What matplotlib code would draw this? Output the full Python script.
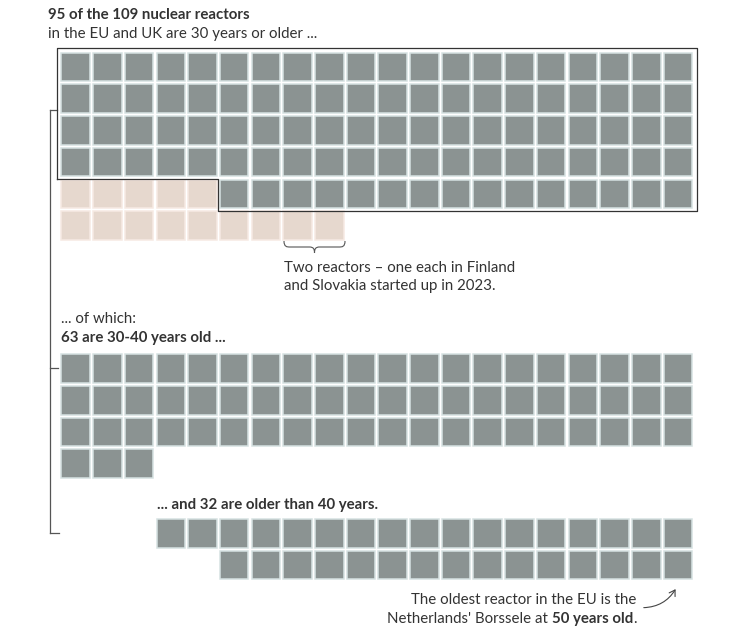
import matplotlib
matplotlib.use("Agg")
import matplotlib.pyplot as plt
from matplotlib.patches import Rectangle, FancyArrowPatch, PathPatch
from matplotlib.path import Path

plt.rcParams['font.family'] = ['Lato', 'DejaVu Sans']

# data
ncols = 20
old_count = 95        # 30 years or older
young_count = 14      # younger than 30
mid_count = 63        # 30-40 years old
oldest_count = 32     # older than 40

title = "95 of the 109 nuclear reactors"
subtitle = "in the EU and UK are 30 years or older ..."
note_new = ["Two reactors \u2013 one each in Finland", "and Slovakia started up in 2023."]
label_mid = ["... of which:", "63 are 30-40 years old ..."]
label_old = "... and 32 are older than 40 years."
note_oldest = ["The oldest reactor in the EU is the", "Netherlands' Borssele at ", "50 years old", "."]

gray = '#8b9392'
gray_edge = '#d6e2e2'
pink = '#e6d8ce'
pink_edge = '#f6eae3'
txt = '#333333'
line = '#555555'

# grid layout in pixels
x0 = 61.4
pitch = 31.7
size = 28.5

full_rows = old_count // ncols
rem = old_count % ncols
old_cells = []
for i in range(old_count):
    if i < full_rows * ncols:
        old_cells.append((i // ncols, i % ncols))
    else:
        old_cells.append((full_rows, ncols - rem + (i - full_rows * ncols)))

young_cells = []
free = ncols - rem
for i in range(young_count):
    if i < free:
        young_cells.append((full_rows, i))
    else:
        j = i - free
        young_cells.append((full_rows + 1 + j // ncols, j % ncols))

mid_cells = old_cells[:mid_count]
oldest_cells = old_cells[mid_count:mid_count + oldest_count]

fig = plt.figure(figsize=(7.47, 6.33), dpi=100)
ax = fig.add_axes([0, 0, 1, 1])
ax.set_xlim(0, 747)
ax.set_ylim(633, 0)
ax.axis('off')


def draw_cells(cells, ytop, fc, ec):
    for r, c in cells:
        ax.add_patch(Rectangle((x0 + c * pitch, ytop + r * pitch), size, size,
                               facecolor=fc, edgecolor=ec, lw=1.1, zorder=2))


draw_cells(old_cells, 52.7, gray, gray_edge)
draw_cells(young_cells, 52.7, pink, pink_edge)
draw_cells(mid_cells, 354.3, gray, gray_edge)
draw_cells(oldest_cells, 519.3 - oldest_cells[0][0] * pitch, gray, gray_edge)

# outline around the 95 old reactors
outline = [(57.3, 179.2), (57.3, 48.3), (696.8, 48.3), (696.8, 211),
           (217.5, 211), (217.5, 179.2), (57.3, 179.2)]
ax.plot([p[0] for p in outline], [p[1] for p in outline], color='#333333', lw=0.9, zorder=3)

# left bracket
ax.plot([50, 50], [110, 533], color=line, lw=0.9)
ax.plot([50, 57.3], [110, 110], color=line, lw=0.9)
ax.plot([50, 58], [368, 368], color=line, lw=0.9)
ax.plot([50, 59], [533, 533], color=line, lw=0.9)

# brace under the two new reactors
bx1, bx2, by = 284, 345, 241
bm = (bx1 + bx2) / 2
verts = [(bx1, by), (bx1, by + 6), (bx1 + 3, by + 6), (bx1 + 6, by + 6),
         (bm - 5, by + 6), (bm - 5, by + 6),
         (bm - 1, by + 6), (bm, by + 8), (bm, by + 12),
         (bm, by + 8), (bm + 1, by + 6), (bm + 5, by + 6),
         (bx2 - 6, by + 6), (bx2 - 6, by + 6),
         (bx2 - 3, by + 6), (bx2, by + 6), (bx2, by)]
codes = [Path.MOVETO, Path.CURVE4, Path.CURVE4, Path.CURVE4,
         Path.LINETO, Path.LINETO,
         Path.CURVE4, Path.CURVE4, Path.CURVE4,
         Path.CURVE4, Path.CURVE4, Path.CURVE4,
         Path.LINETO, Path.LINETO,
         Path.CURVE4, Path.CURVE4, Path.CURVE4]
ax.add_patch(PathPatch(Path(verts, codes), facecolor='none', edgecolor=line, lw=0.8))

fs = 10.8
ax.text(48.3, 19.3, title, fontsize=fs, fontweight='bold', color=txt, va='baseline')
ax.text(48.3, 38, subtitle, fontsize=fs, color=txt, va='baseline')
ax.text(284, 271.7, note_new[0], fontsize=fs, color=txt, va='baseline')
ax.text(284, 289.7, note_new[1], fontsize=fs, color=txt, va='baseline')
ax.text(61, 323.3, label_mid[0], fontsize=fs, color=txt, va='baseline')
ax.text(61, 341.7, label_mid[1], fontsize=fs, fontweight='bold', color=txt, va='baseline')
ax.text(156.7, 509.3, label_old, fontsize=fs, fontweight='bold', color=txt, va='baseline')

xr = 636.7
ax.text(xr, 604, note_oldest[0], fontsize=fs, color=txt, va='baseline', ha='right')
renderer = fig.canvas.get_renderer()
inv = ax.transData.inverted()
x = xr
for part, weight in [(note_oldest[3], 'normal'), (note_oldest[2], 'bold'), (note_oldest[1], 'normal')]:
    t = ax.text(x, 623.3, part, fontsize=fs, color=txt, va='baseline', ha='right', fontweight=weight)
    bb = t.get_window_extent(renderer)
    x = inv.transform((bb.x0, bb.y0))[0]

ax.add_patch(FancyArrowPatch((641, 607.7), (677, 586.7), connectionstyle='arc3,rad=0.3',
                             arrowstyle='->,head_length=4,head_width=2.5', color='#444444', lw=0.8))

fig.savefig('out.png', dpi=100)
